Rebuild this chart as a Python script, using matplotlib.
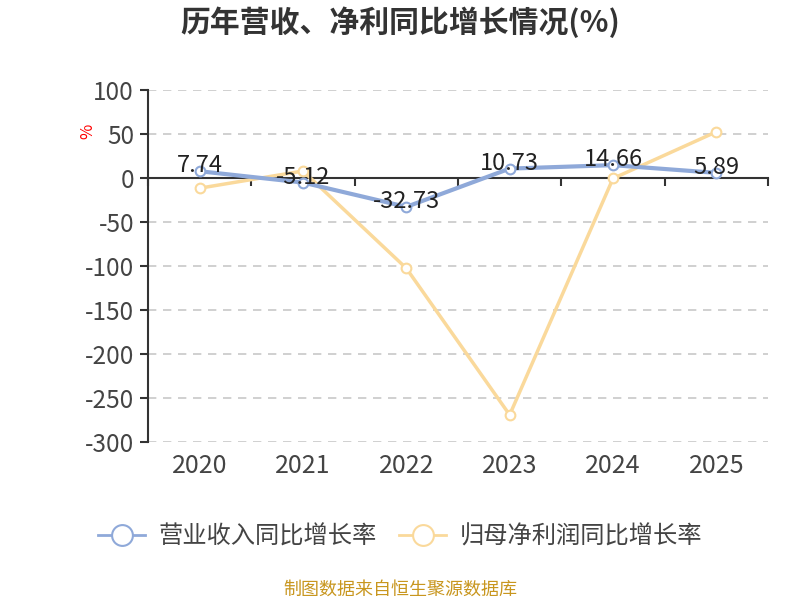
import matplotlib
matplotlib.use('Agg')
from matplotlib import pyplot as plt
from matplotlib.lines import Line2D

plt.rcParams['font.family'] = ['Noto Sans CJK SC', 'DejaVu Sans']
plt.rcParams['axes.unicode_minus'] = False

# data
years = ['2020', '2021', '2022', '2023', '2024', '2025']
revenue_growth = [7.74, -5.12, -32.73, 10.73, 14.66, 5.89]
profit_growth = [-11.5, 8.0, -102.5, -269.0, -0.5, 52.5]
y_ticks = [100, 50, 0, -50, -100, -150, -200, -250, -300]

blue = '#8fa9d9'
yellow = '#fad99b'

fig = plt.figure(figsize=(8, 6), dpi=100)
ax = fig.add_axes([0.185, 0.263, 0.775, 0.587])

x = list(range(len(years)))
ax.plot(x, revenue_growth, color=blue, lw=3, marker='o', ms=7,
        mfc='white', mec=blue, mew=1.5, zorder=4)
ax.plot(x, profit_growth, color=yellow, lw=2.5, marker='o', ms=7,
        mfc='white', mec=yellow, mew=1.5, zorder=3)

for xi, v in zip(x, revenue_growth):
    ax.text(xi, v + 6, f'{v:.2f}', ha='center', va='center',
            fontsize=17, color='#222222', zorder=5)

ax.set_xlim(-0.5, len(years) - 0.5)
ax.set_ylim(-300, 100)
ax.set_yticks(y_ticks)
ax.set_yticklabels([str(t) for t in y_ticks], fontsize=17.5, color='#444444')
ax.yaxis.grid(True, ls=(0, (5, 4)), color='#c8c8c8', lw=1.2)
ax.set_axisbelow(True)

# x axis line sits at zero, labels at bottom
ax.spines['top'].set_visible(False)
ax.spines['right'].set_visible(False)
ax.spines['bottom'].set_position(('data', 0))
ax.spines['bottom'].set_color('#333333')
ax.spines['bottom'].set_linewidth(1.5)
ax.spines['left'].set_color('#333333')
ax.spines['left'].set_linewidth(1.5)
ax.tick_params(axis='y', length=6, width=1.5, color='#333333', pad=4)
ax.set_xticks([i - 0.5 for i in range(len(years) + 1)])
ax.set_xticklabels([])
ax.tick_params(axis='x', length=6, width=1.5, color='#333333')
for xi, yr in zip(x, years):
    ax.text(xi, -327, yr, ha='center', va='center', fontsize=18, color='#444444')

ax.text(-1.08, 53, '%', color='red', fontsize=12, rotation=90,
        ha='center', va='center', transform=ax.transData, clip_on=False)

fig.text(0.5, 0.963, '历年营收、净利同比增长情况(%)', ha='center', va='center',
         fontsize=21.5, fontweight='bold', color='#333333')

# legend
handles = [
    Line2D([0], [0], color=blue, lw=2, marker='o', ms=15, mfc='white', mec=blue, mew=1.5),
    Line2D([0], [0], color=yellow, lw=2, marker='o', ms=15, mfc='white', mec=yellow, mew=1.5),
]
fig.legend(handles, ['营业收入同比增长率', '归母净利润同比增长率'], loc='center',
           bbox_to_anchor=(0.5, 0.105), ncol=2, frameon=False, fontsize=17.5,
           handlelength=1.95, handletextpad=0.55, columnspacing=0.9, labelcolor='#444444')

fig.text(0.5, 0.017, '制图数据来自恒生聚源数据库', ha='center', va='center',
         fontsize=13, color='#c8961e')

fig.savefig('out.png', dpi=100)
